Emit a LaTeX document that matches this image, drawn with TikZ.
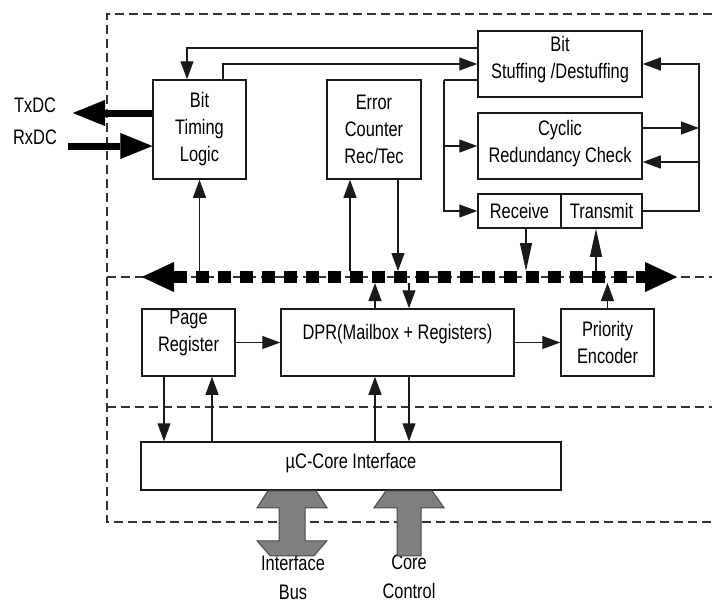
\documentclass[tikz,border=0pt]{standalone}
\usepackage{fontspec}
\setmainfont{Liberation Sans}[FakeStretch=0.78]
\usetikzlibrary{arrows.meta}
\definecolor{busgray}{HTML}{7F7F7F}
\definecolor{edgegray}{HTML}{4A4A4A}
\definecolor{inkx}{HTML}{1A1A1A}
\tikzset{
  box/.style={draw=inkx,line width=1.5pt,fill=white,align=center,inner sep=1pt},
  ln/.style={line width=1.2pt,inkx},
  ar/.style={-{Triangle[length=18pt,width=13pt]},line width=1.2pt,inkx},
  arl/.style={-{Triangle[length=28pt,width=12pt]},line width=1.2pt,inkx},
  fat/.style={-{Triangle[length=32pt,width=26pt,line width=0.1pt]},line width=7pt,black},
  bus/.style={{Triangle[length=32pt,width=30pt,line width=0.1pt]}-{Triangle[length=32pt,width=30pt,line width=0.1pt]},line width=12pt,black,dash pattern=on 13pt off 9pt},
  frame/.style={line width=1.3pt,black!80,dash pattern=on 9pt off 5pt},
  pipe/.style={fill=busgray,draw=edgegray,line width=1pt},
  lbl/.style={align=center,inner sep=1pt}
}

\begin{document}
\begin{tikzpicture}[x=1pt,y=-1pt,font=\fontsize{21}{27}\selectfont]
\useasboundingbox (0,0) rectangle (712,603);
% dashed frame and borders
\draw[frame] (712,14) -| (107,522) -- (712,522);
\draw[frame] (107,277) -- (712,277);
\draw[frame] (107,407) -- (712,407);
% blocks
\node[box,minimum width=93pt,minimum height=99pt] (btl) at (199.5,129.5) {Bit\\Timing\\Logic};
\node[box,minimum width=94pt,minimum height=99pt] (ecnt) at (374,129.5) {Error\\Counter\\Rec/Tec};
\node[box,minimum width=164pt,minimum height=66pt,text depth=14pt] (bsd) at (560,64) {Bit\\Stuffing /Destuffing};
\node[box,minimum width=164pt,minimum height=66pt,text depth=9pt] (crc) at (560,146) {Cyclic\\Redundancy Check};
\node[box,minimum width=83pt,minimum height=34pt] (rcv) at (519.5,211) {Receive};
\node[box,minimum width=81pt,minimum height=34pt] (tmt) at (601.5,211) {Transmit};
\node[box,minimum width=93pt,minimum height=67pt,text depth=23pt,inner sep=0pt] (page) at (188.5,342.5) {Page\\Register};
\node[box,minimum width=233pt,minimum height=67pt,text depth=21pt] (dpr) at (397.5,342.5) {DPR(Mailbox + Registers)};
\node[box,minimum width=93pt,minimum height=67pt] (prio) at (607.5,342.5) {Priority\\Encoder};
\node[box,minimum width=420pt,minimum height=48pt,text depth=10pt] (uc) at (351,466) {µC-Core Interface};
% outside labels
\node[lbl] (txl) at (35,105) {TxDC};
\node[lbl] (rxl) at (35,137) {RxDC};
\node[lbl,font=\fontsize{21}{29}\selectfont] (ibus) at (293,577) {Interface\\Bus};
\node[lbl,font=\fontsize{21}{29}\selectfont] (cctl) at (409,577) {Core\\Control};
% helper points
\coordinate (busL) at (142,277);
\coordinate (busR) at (677,277);
\coordinate (busT) at (400,271);
\coordinate (busB) at (400,283);
\coordinate (lft) at (444,80);
\coordinate (rgt) at (699,64);
\coordinate (txd) at (73,113);
\coordinate (rxd) at (68,146);
% upper block links
\draw[ar] ([yshift=16pt]bsd.west) -| ([xshift=-12.5pt]btl.north);
\draw[ar] ([xshift=23.5pt]btl.north) |- (bsd.west);
\draw[ln] ([yshift=-16pt]bsd.west) -- (lft);
\draw[ar] (lft) |- (crc.west);
\draw[ar] (lft) |- (rcv.west);
\draw[ar] (tmt.east) -| (rgt) -- (bsd.east);
\draw[ar] ([yshift=18pt]crc.east) -- ([yshift=18pt]crc.east -| rgt);
\draw[ar] ([yshift=-16pt]crc.east -| rgt) -- ([yshift=-16pt]crc.east);
% links to the bus
\draw[ar] (btl.south |- busT) -- (btl.south);
\draw[ar] ([xshift=-24pt]ecnt.south |- busT) -- ([xshift=-24pt]ecnt.south);
\draw[ar] ([xshift=24pt]ecnt.south) -- ([xshift=24pt]ecnt.south |- busT);
\draw[arl] ([xshift=6.5pt]rcv.south) -- ([xshift=6.5pt]rcv.south |- busT);
\draw[arl] ([xshift=-5.5pt]tmt.south |- busT) -- ([xshift=-5.5pt]tmt.south);
\draw[ar] ([xshift=-22.5pt]dpr.north) -- ([xshift=-22.5pt]dpr.north |- busB);
\draw[ar] ([xshift=11.5pt]dpr.north |- busB) -- ([xshift=11.5pt]dpr.north);
\draw[ar] (prio.north) -- (prio.north |- busB);
\draw[bus] (busL) -- (busR);
% lower block links
\draw[ar] (page.east) -- (dpr.west);
\draw[ar] (dpr.east) -- (prio.west);
\draw[ar] ([xshift=-24.5pt]page.south) -- ([xshift=-24.5pt]page.south |- uc.north);
\draw[ar] ([xshift=23.5pt]page.south |- uc.north) -- ([xshift=23.5pt]page.south);
\draw[ar] ([xshift=-22.5pt]dpr.south |- uc.north) -- ([xshift=-22.5pt]dpr.south);
\draw[ar] ([xshift=11.5pt]dpr.south) -- ([xshift=11.5pt]dpr.south |- uc.north);
% TxDC / RxDC
\draw[fat] ([yshift=16.5pt]btl.west) -- (txd);
\draw[fat] (rxd) -- ([yshift=-16.5pt]btl.west);
% interface bus and core control
\draw[pipe] ([xshift=-83pt]uc.south) -- ++(48,0) -- ++(11,17) -- ++(-22,0) -- ++(0,33) -- ++(22,0)
  -- ++(-13,15) -- ++(-44,0) -- ++(-13,-15) -- ++(22,0) -- ++(0,-33) -- ++(-22,0) -- cycle;
\draw[pipe] ([xshift=35pt]uc.south) -- ++(46,0) -- ++(12,17) -- ++(-23,0) -- ++(0,48) -- ++(-24,0)
  -- ++(0,-48) -- ++(-23,0) -- cycle;
\end{tikzpicture}
\end{document}
